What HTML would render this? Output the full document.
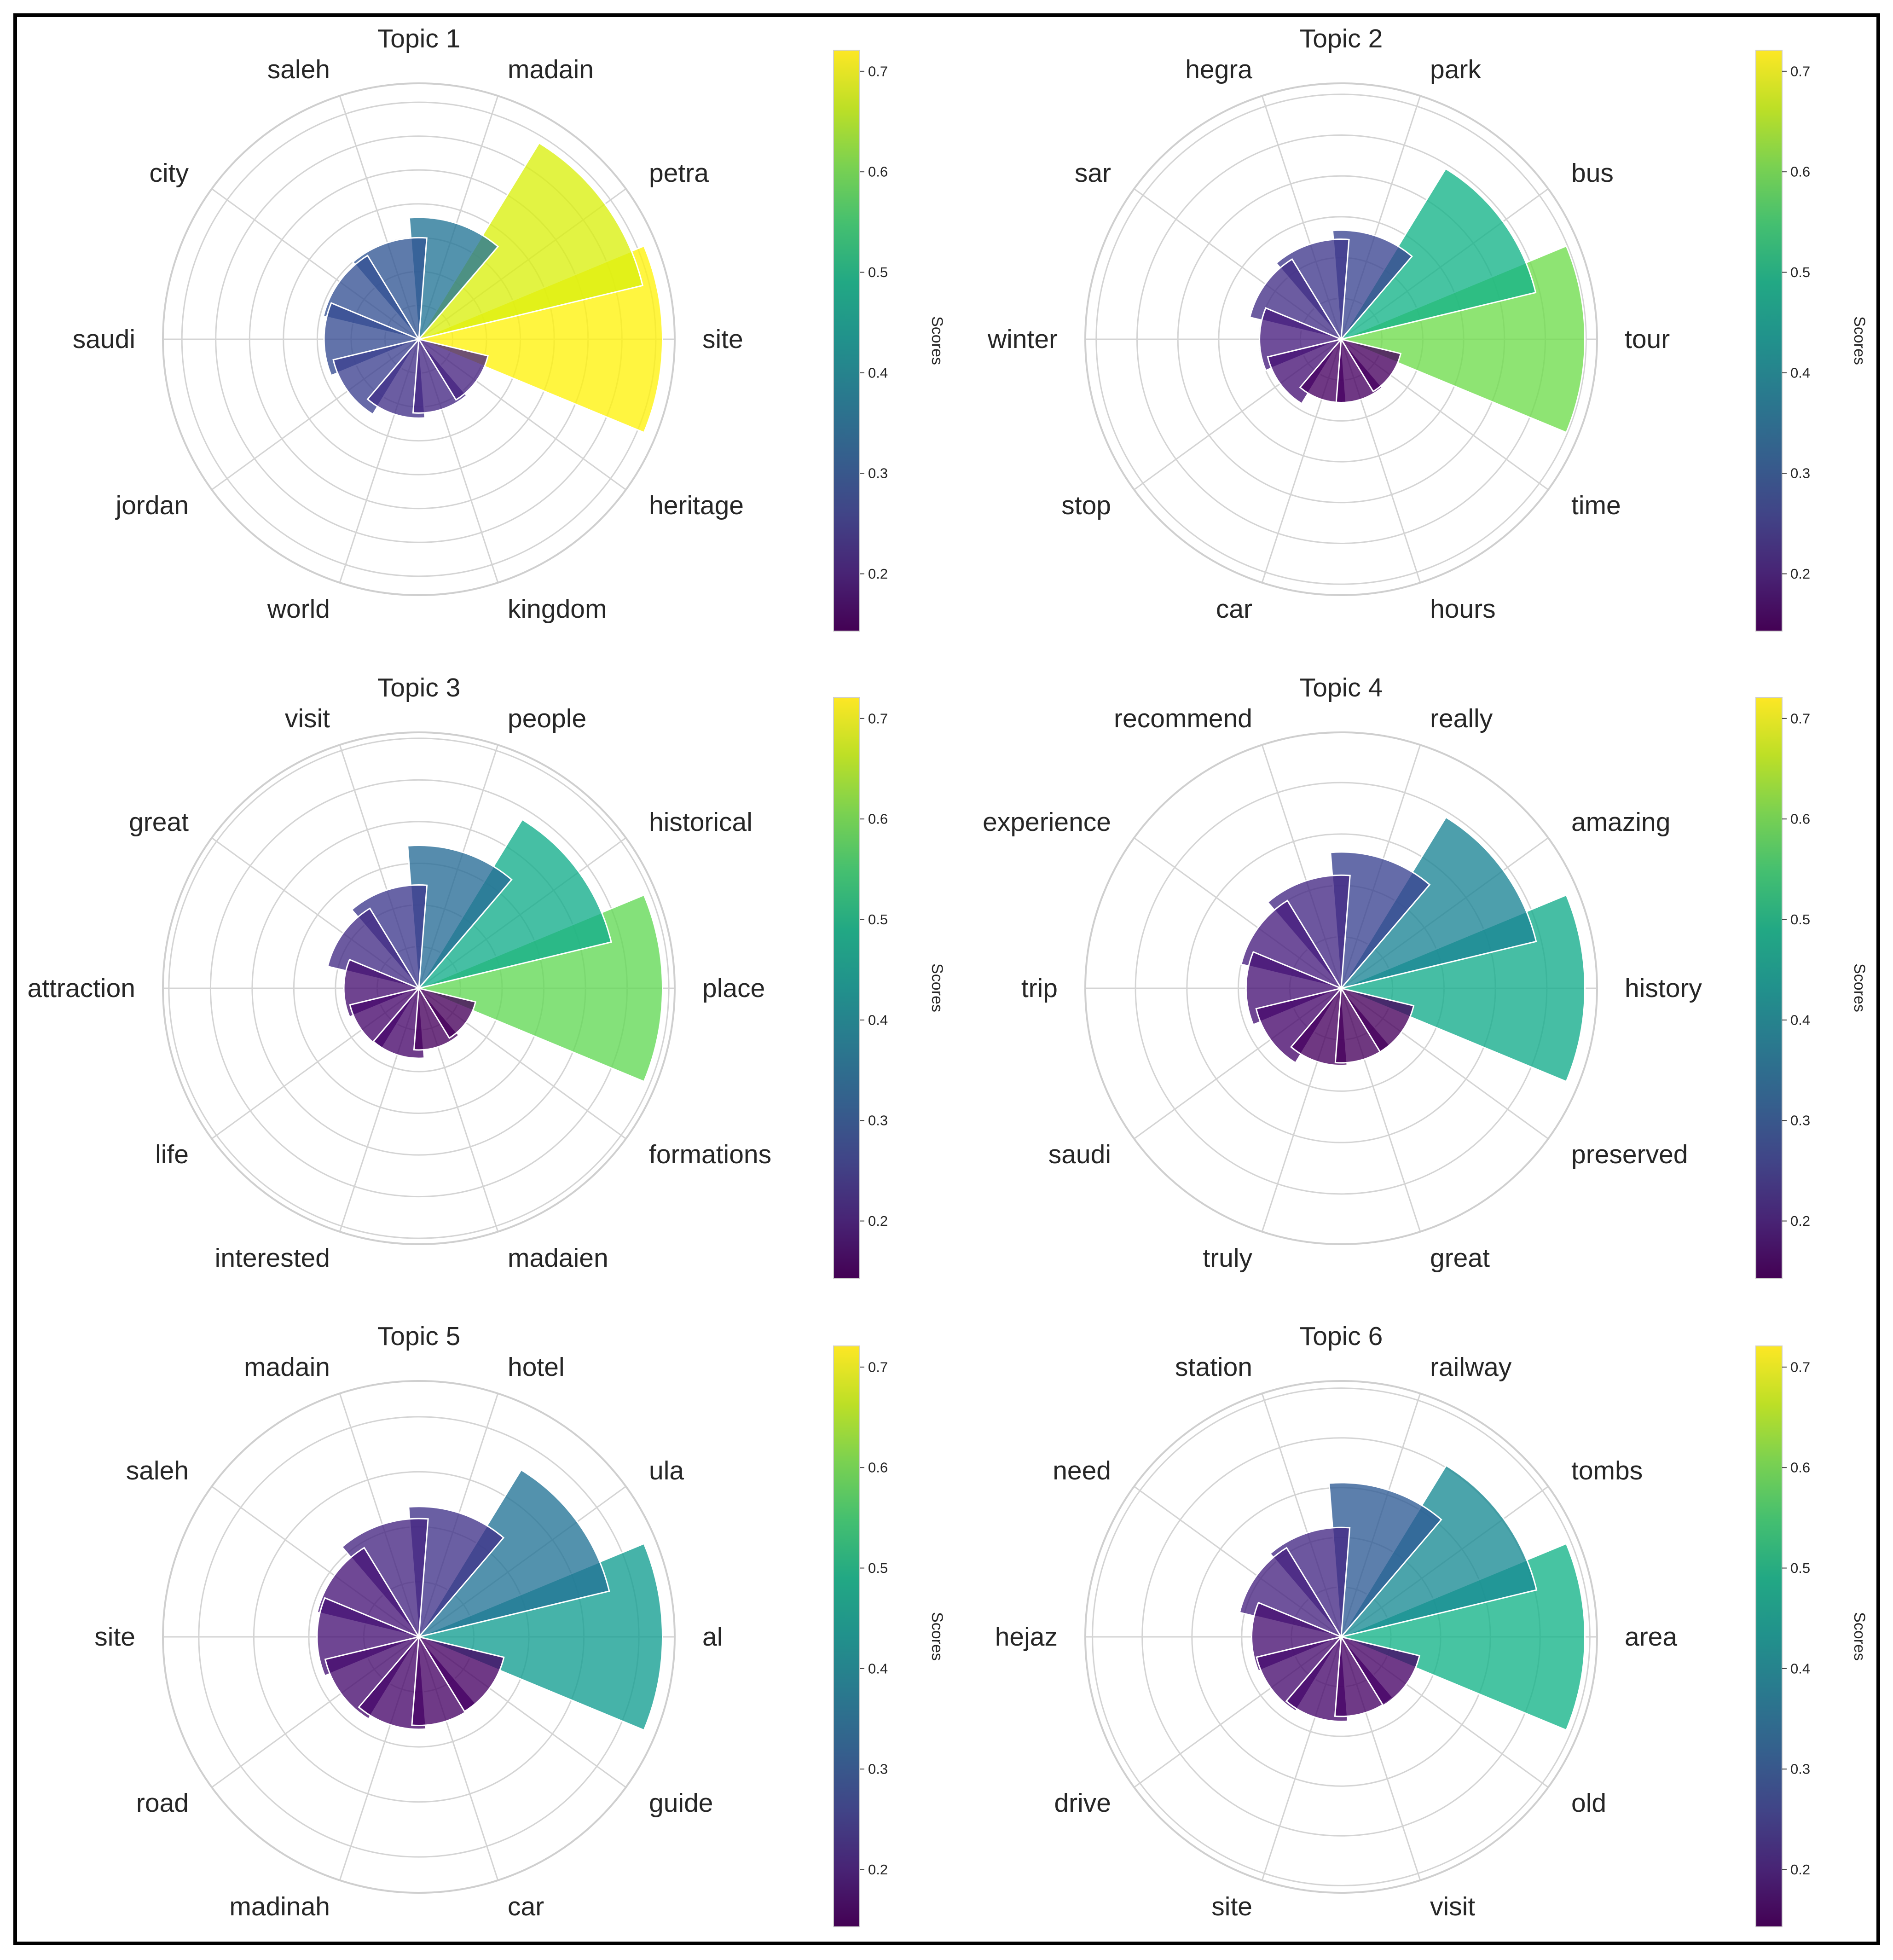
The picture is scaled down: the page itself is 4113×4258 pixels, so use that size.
<!DOCTYPE html>
<html>
<head>
<meta charset="utf-8">
<style>
html,body{margin:0;padding:0;background:#fff;}
svg{display:block;}
text{font-family:"Liberation Sans",Arial,sans-serif;fill:#262626;}
</style>
</head>
<body>
<svg id="chart" xmlns="http://www.w3.org/2000/svg" width="4113" height="4258" viewBox="0 0 4113 4258">
  <defs>
    <linearGradient id="viridisGrad" x1="0" y1="1" x2="0" y2="0">
      <stop offset="0" stop-color="#440154"/>
      <stop offset="0.1" stop-color="#482475"/>
      <stop offset="0.2" stop-color="#414487"/>
      <stop offset="0.3" stop-color="#355f8d"/>
      <stop offset="0.4" stop-color="#2a788e"/>
      <stop offset="0.5" stop-color="#21918c"/>
      <stop offset="0.6" stop-color="#22a884"/>
      <stop offset="0.7" stop-color="#44bf70"/>
      <stop offset="0.8" stop-color="#7ad151"/>
      <stop offset="0.9" stop-color="#bddf26"/>
      <stop offset="1" stop-color="#fde725"/>
    </linearGradient>
  </defs>
  <rect x="33" y="33" width="4048" height="4189" fill="none" stroke="#000" stroke-width="8"/>
  <g id="plots"></g>
</svg>
<script>
const topic1Labels = ["site","petra","madain","saleh","city","saudi","jordan","world","kingdom","heritage"];
const topic1Scores = [0.72,0.68,0.36,0.30,0.29,0.28,0.26,0.233,0.218,0.21];
const topic2Labels = ["tour","bus","park","hegra","sar","winter","stop","car","hours","time"];
const topic2Scores = [0.597,0.49,0.267,0.245,0.23,0.2,0.185,0.155,0.155,0.15];
const topic3Labels = ["place","historical","people","visit","great","attraction","life","interested","madaien","formations"];
const topic3Scores = [0.585,0.475,0.343,0.248,0.225,0.18,0.17,0.168,0.148,0.14];
const topic4Labels = ["history","amazing","really","recommend","experience","trip","saudi","truly","great","preserved"];
const topic4Scores = [0.474,0.39,0.265,0.22,0.2,0.185,0.17,0.15,0.145,0.145];
const topic5Labels = ["al","ula","hotel","madain","saleh","site","road","madinah","car","guide"];
const topic5Scores = [0.443,0.356,0.237,0.215,0.19,0.185,0.175,0.168,0.161,0.159];
const topic6Labels = ["area","tombs","railway","station","need","hejaz","drive","site","visit","old"];
const topic6Scores = [0.49,0.404,0.31,0.22,0.21,0.18,0.175,0.17,0.16,0.162];
const topicTitles = ["Topic 1","Topic 2","Topic 3","Topic 4","Topic 5","Topic 6"];
const colorbarTicks = [0.2,0.3,0.4,0.5,0.6,0.7];
const colorMin = 0.143;
const colorMax = 0.721;

const NS = "http://www.w3.org/2000/svg";
const root = document.getElementById("plots");
const viridis = ["#440154","#482475","#414487","#355f8d","#2a788e","#21918c","#22a884","#44bf70","#7ad151","#bddf26","#fde725"];
function hex2rgb(h){return [parseInt(h.substr(1,2),16),parseInt(h.substr(3,2),16),parseInt(h.substr(5,2),16)];}
function cmap(t, sat){
  t=Math.max(0,Math.min(1,t));
  const p=t*10, i=Math.min(9,Math.floor(p)), f=p-i;
  const a=hex2rgb(viridis[i]), b=hex2rgb(viridis[i+1]);
  let c=a.map((v,k)=>v+(b[k]-v)*f);
  const m=(c[0]+c[1]+c[2])/3;
  c=c.map(v=>Math.round(Math.max(0,Math.min(255,m+(v-m)*sat))));
  return "rgb("+c.join(",")+")";
}
function mk(tag, attrs, parent){
  const e=document.createElementNS(NS,tag);
  for(const k in attrs) e.setAttribute(k,attrs[k]);
  (parent||root).appendChild(e);
  return e;
}
const R = 556;
const colX = [910, 2914], rowY = [737, 2147, 3556];
const cbX = [1811, 3815], cbW = 57;
const cbTop = [109, 1515, 2924], cbH = 1262;
const allLabels = [topic1Labels,topic2Labels,topic3Labels,topic4Labels,topic5Labels,topic6Labels];
const allScores = [topic1Scores,topic2Scores,topic3Scores,topic4Scores,topic5Scores,topic6Scores];

function labelPos(i){
  const deg = i*36;
  const c = Math.cos(deg*Math.PI/180), s = Math.sin(deg*Math.PI/180);
  const ac = Math.abs(c), as = Math.abs(s);
  let dx, dy;
  if (ac > 0.99) { dx = 616; dy = 0; }
  else if (ac > 0.7) { dx = 500; dy = 361; }
  else { dx = 193; dy = 586; }
  return {dx: c >= 0 ? dx : -dx, dy: s >= 0 ? -dy : dy, anchor: c >= 0 ? "start" : "end"};
}

allLabels.forEach((labels, ti) => {
  const scores = allScores[ti];
  const col = ti % 2, row = Math.floor(ti / 2);
  const cx = colX[col], cy = rowY[row];
  const rmax = Math.max(...scores) * 1.05;
  const rScale = v => v / rmax * R;
  const pt = (r, deg) => [cx + r*Math.cos(deg*Math.PI/180), cy - r*Math.sin(deg*Math.PI/180)];
  const g = mk("g", {});
  
  
  for (let v = 0.1; v < rmax - 1e-6; v += 0.1) {
    const c = mk("circle", {cx:cx, cy:cy, r:rScale(v), fill:"none", stroke:"#d4d4d4", "stroke-width":3}, g);
    
    
  }
  labels.forEach((lab, i) => {
    const [x, y] = pt(R, i*36);
    const l = mk("line", {x1:cx, y1:cy, x2:x, y2:y, stroke:"#d4d4d4", "stroke-width":3}, g);
    
    
  });
  const outer = mk("circle", {cx:cx, cy:cy, r:R, fill:"none", stroke:"#cfcfcf", "stroke-width":4}, g);
  
  
  scores.forEach((v, i) => {
    const r = rScale(v), a1 = i*36 - 22.5, a2 = i*36 + 22.5;
    const [x1, y1] = pt(r, a1), [x2, y2] = pt(r, a2);
    const d = "M"+cx+","+cy+" L"+x1+","+y1+" A"+r+","+r+" 0 0 0 "+x2+","+y2+" Z";
    const p = mk("path", {d:d, fill:cmap((v-colorMin)/(colorMax-colorMin), 1.2), "fill-opacity":0.78, stroke:"#fff", "stroke-width":3}, g);
    
    
  });
  labels.forEach((lab, i) => {
    const lp = labelPos(i);
    const t = mk("text", {x:cx+lp.dx, y:cy+lp.dy, "font-size":57, "text-anchor":lp.anchor, "dominant-baseline":"central"}, g);
    t.textContent = lab;
    
    
  });
  const title = mk("text", {x:cx, y:cy-653, "font-size":57, "text-anchor":"middle", "dominant-baseline":"central"}, g);
  title.textContent = topicTitles[ti];
  
  
  const bx = cbX[col], by = cbTop[row];
  const cb = mk("rect", {x:bx, y:by, width:cbW, height:cbH, fill:"url(#viridisGrad)", stroke:"#cfcfcf", "stroke-width":2}, g);
  
  
  colorbarTicks.forEach(tv => {
    const y = by + cbH - (tv - colorMin)/(colorMax - colorMin)*cbH;
    const tk = mk("line", {x1:bx+cbW, y1:y, x2:bx+cbW+10, y2:y, stroke:"#444", "stroke-width":2}, g);
    
    
    const tt = mk("text", {x:bx+cbW+18, y:y, "font-size":31, "dominant-baseline":"central"}, g);
    tt.textContent = tv.toFixed(1);
    
    
  });
  const sx = bx + 225, sy = by + cbH/2;
  const st = mk("text", {x:sx, y:sy, "font-size":34, "text-anchor":"middle", "dominant-baseline":"central", transform:"rotate(90 "+sx+" "+sy+")"}, g);
  st.textContent = "Scores";
  
  
});
</script>
</body>
</html>
